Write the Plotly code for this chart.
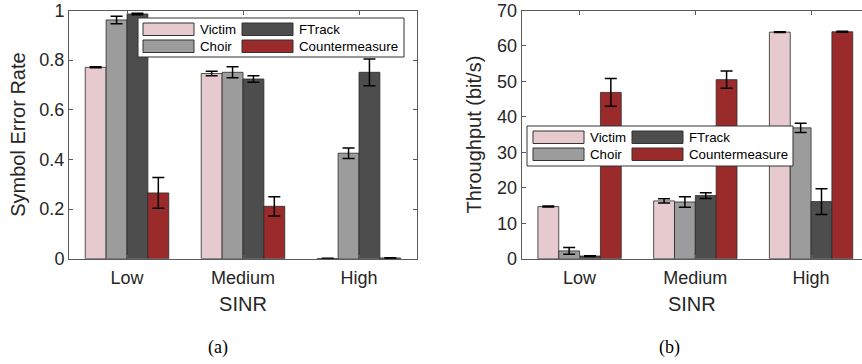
import plotly.graph_objects as go

W, H = 862, 364

categories = ["Low", "Medium", "High"]
series_names = ["Victim", "Choir", "FTrack", "Countermeasure"]
series_colors = ["#E6CACD", "#9C9C9C", "#4D4D4D", "#9B2A2B"]

# (a) Symbol Error Rate
ser_victim = [0.771, 0.746, 0.001]
ser_victim_err = [0.002, 0.009, 0.001]
ser_choir = [0.962, 0.751, 0.425]
ser_choir_err = [0.015, 0.022, 0.021]
ser_ftrack = [0.986, 0.724, 0.751]
ser_ftrack_err = [0.003, 0.013, 0.054]
ser_counter = [0.265, 0.211, 0.003]
ser_counter_err = [0.062, 0.039, 0.001]

# (b) Throughput (bit/s)
thr_victim = [14.7, 16.3, 63.9]
thr_victim_err = [0.15, 0.6, 0.1]
thr_choir = [2.2, 16.0, 36.9]
thr_choir_err = [0.95, 1.5, 1.3]
thr_ftrack = [0.75, 17.8, 16.1]
thr_ftrack_err = [0.1, 0.8, 3.6]
thr_counter = [46.9, 50.5, 64.0]
thr_counter_err = [3.9, 2.45, 0.15]

ser_vals = [ser_victim, ser_choir, ser_ftrack, ser_counter]
ser_errs = [ser_victim_err, ser_choir_err, ser_ftrack_err, ser_counter_err]
thr_vals = [thr_victim, thr_choir, thr_ftrack, thr_counter]
thr_errs = [thr_victim_err, thr_choir_err, thr_ftrack_err, thr_counter_err]

TXT = "#262626"
AX = "#5a5a5a"
FONT = "Liberation Sans, Arial, Helvetica, sans-serif"

fig = go.Figure()

for vals, errs, xa, ya in [(ser_vals, ser_errs, "x", "y"), (thr_vals, thr_errs, "x2", "y2")]:
    for name, color, v, e in zip(series_names, series_colors, vals, errs):
        fig.add_trace(go.Bar(
            x=categories, y=v, name=name, xaxis=xa, yaxis=ya,
            marker=dict(color=color, line=dict(color="#2a2a2a", width=0.8)),
            error_y=dict(type="data", array=e, color="black", thickness=1.5, width=6),
            showlegend=False,
        ))

def px2paper(x, y):
    return x / W, 1 - y / H

y_bot, y_top = 1 - 258.7 / H, 1 - 10.5 / H

axis_common = dict(showline=True, linecolor=AX, linewidth=1, mirror="ticks",
                   ticks="inside", ticklen=4, tickcolor=AX,
                   tickfont=dict(size=18, color=TXT, family=FONT),
                   ticklabeloverflow="allow", automargin=False,
                   showgrid=False, zeroline=False)

xaxis_extra = dict(ticklabelstandoff=3,
                   title=dict(text="SINR", font=dict(size=20, color=TXT), standoff=9))

fig.update_layout(
    width=W, height=H, margin=dict(l=0, r=0, t=0, b=0, autoexpand=False),
    paper_bgcolor="white", plot_bgcolor="white",
    barmode="group", bargap=0.28, bargroupgap=0,
    font=dict(family=FONT, color=TXT),
    xaxis=dict(domain=[69 / W, 417 / W], anchor="y", type="category",
               range=[-0.5, 2.5], **xaxis_extra, **axis_common),
    yaxis=dict(domain=[y_bot, y_top], anchor="x", range=[0, 1],
               tickvals=[0, 0.2, 0.4, 0.6, 0.8, 1],
               title=dict(text="Symbol Error Rate", font=dict(size=20, color=TXT), standoff=8),
               **axis_common),
    xaxis2=dict(domain=[521.7 / W, 1], anchor="y2", type="category",
                range=[-0.5, 2.44], **xaxis_extra, **axis_common),
    yaxis2=dict(domain=[y_bot, y_top], anchor="x2", range=[0, 70],
                tickvals=[0, 10, 20, 30, 40, 50, 60, 70],
                title=dict(text="Throughput (bit/s)", font=dict(size=20, color=TXT), standoff=10),
                **{**axis_common, "mirror": False}),
)

# manual legends (wide swatches, two columns)
shapes = []
annotations = []

def add_legend(box, col_x, row_y, sw_w, sw_h, text_dx):
    x0, y0, x1, y1 = box
    px0, py0 = px2paper(x0, y0)
    px1, py1 = px2paper(x1, y1)
    shapes.append(dict(type="rect", xref="paper", yref="paper", x0=px0, y0=py1, x1=px1, y1=py0,
                       line=dict(color="#333333", width=1), fillcolor="white", layer="above"))
    # column-major: Victim, Choir in first column; FTrack, Countermeasure in second
    for idx, name in enumerate(series_names):
        c = idx // 2
        r = idx % 2
        sx, sy = col_x[c], row_y[r]
        a0, b0 = px2paper(sx, sy)
        a1, b1 = px2paper(sx + sw_w, sy + sw_h)
        shapes.append(dict(type="rect", xref="paper", yref="paper", x0=a0, y0=b1, x1=a1, y1=b0,
                           line=dict(color="#333333", width=1), fillcolor=series_colors[idx],
                           layer="above"))
        tx, ty = px2paper(sx + sw_w + text_dx, sy + sw_h / 2)
        annotations.append(dict(text=name, xref="paper", yref="paper", x=tx, y=ty,
                                xanchor="left", yanchor="middle", showarrow=False,
                                font=dict(size=13.3, color="black", family=FONT)))

add_legend((138, 18, 404, 57), [143, 242], [23, 40], 51, 12.5, 4)
add_legend((527, 126, 793, 166), [533, 632], [131, 148], 51, 12.5, 4)

for label, cx in [("(a)", 218), ("(b)", 669)]:
    x, y = px2paper(cx, 347)
    annotations.append(dict(text=label, xref="paper", yref="paper", x=x, y=y,
                            xanchor="center", yanchor="middle", showarrow=False,
                            font=dict(size=18, color="black", family="Liberation Serif, Times New Roman, serif")))

fig.update_layout(shapes=shapes, annotations=annotations)

fig.write_html("out.html")
